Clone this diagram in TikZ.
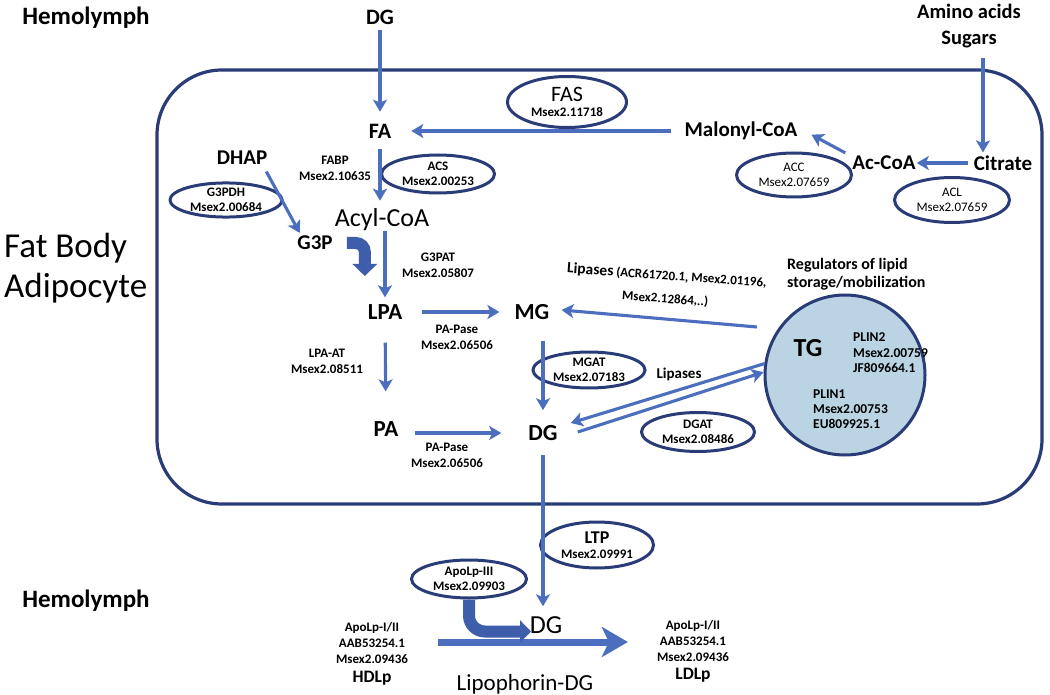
\documentclass[tikz,border=0pt]{standalone}
\usepackage{fontspec}
\setmainfont{Carlito}
\usetikzlibrary{arrows.meta,shapes.geometric,calc}
\definecolor{arrblue}{RGB}{76,110,190}
\definecolor{navy}{RGB}{42,60,120}
\definecolor{tgfill}{RGB}{186,212,228}
\definecolor{thickblue}{RGB}{62,94,172}
\begin{document}
\begin{tikzpicture}[x=1pt,y=-1pt,
  flow/.style={draw=arrblue, line width=3.1pt, -{Stealth[length=12pt,width=14pt,inset=3pt]}},
  lab/.style={inner sep=0pt, font=\bfseries\fontsize{21}{25}\selectfont},
  biglab/.style={inner sep=0pt, font=\bfseries\fontsize{23}{27}\selectfont},
  note/.style={inner sep=0pt, align=center, font=\bfseries\fontsize{13}{16}\selectfont},
  enz/.style={ellipse, draw=navy, line width=3pt, inner sep=0pt, minimum width=114pt, minimum height=40pt, align=center, font=\bfseries\fontsize{13}{15.5}\selectfont},
  bigarrow/.style={draw=thickblue, line width=12pt, -{Triangle[length=12pt,width=24pt]}},
]
\useasboundingbox (0,0) rectangle (1050,695);
\fill[white] (0,0) rectangle (1050,695);
% cell
\draw[navy, line width=3.2pt, rounded corners=65pt] (157,70) rectangle (1042,504);

% outside labels
\node[inner sep=0pt, font=\bfseries\fontsize{25}{28}\selectfont] (hem1) at (86,18) {Hemolymph};
\node[inner sep=0pt, font=\bfseries\fontsize{25}{28}\selectfont] (hem2) at (86,601) {Hemolymph};
\node[lab, font=\bfseries\fontsize{22}{26}\selectfont] (dg0) at (380,17) {DG};
\node[inner sep=0pt, align=center, font=\bfseries\fontsize{20.5}{26}\selectfont] (amino) at (969,26) {Amino acids\\Sugars};
\node[inner sep=0pt, align=left, anchor=west, font=\fontsize{35}{40}\selectfont] (fat) at (4,268) {Fat Body\\Adipocyte};

% upper pathway
\node[lab, font=\bfseries\fontsize{22}{26}\selectfont] (fa) at (380,131) {FA};
\node[lab] (mal) at (741,131) {Malonyl-CoA};
\node[lab] (acoa) at (884,163) {Ac-CoA};
\node[lab] (cit) at (1003,163) {Citrate};
\node[enz, minimum width=119pt, minimum height=51pt] (fas) at (567,102) {{\mdseries\fontsize{22}{24}\selectfont FAS}\\Msex2.11718};
\node[enz, minimum width=115pt, minimum height=44pt, font=\fontsize{13}{15.5}\selectfont] (acc) at (794,175) {ACC\\Msex2.07659};
\node[enz, minimum width=115pt, minimum height=45pt, font=\fontsize{13}{15.5}\selectfont] (acl) at (952,200) {ACL\\Msex2.07659};

\node[lab] (dhap) at (242,158) {DHAP};
\node[note] (fabp) at (335,168) {FABP\\Msex2.10635};
\node[enz, minimum width=113pt, minimum height=38pt] (acs) at (438,174) {ACS\\Msex2.00253};
\node[enz, minimum width=112pt, minimum height=34pt] (g3pdh) at (226,200) {G3PDH\\Msex2.00684};
\node[inner sep=0pt, font=\fontsize{26}{30}\selectfont] (acyl) at (382,220) {Acyl-CoA};
\node[lab] (g3p) at (315,243) {G3P};
\node[note] (g3pat) at (438,265) {G3PAT\\Msex2.05807};

\node[biglab] (lpa) at (385,312) {LPA};
\node[biglab] (mg) at (532,312) {MG};
\node[note] (pap1) at (457,337) {PA-Pase\\Msex2.06506};
\node[note] (lpaat) at (327,361) {LPA-AT\\Msex2.08511};
\node[biglab] (pa) at (386,429) {PA};
\node[biglab] (dg) at (543,433) {DG};
\node[note] (pap2) at (447,455) {PA-Pase\\Msex2.06506};
\node[enz, minimum width=112pt, minimum height=36pt] (mgat) at (589,370) {MGAT\\Msex2.07183};
\node[note, font=\bfseries\fontsize{15}{18}\selectfont] (lip2) at (679,374) {Lipases};
\node[enz, minimum width=113pt, minimum height=39pt] (dgat) at (698,432) {DGAT\\Msex2.08486};

% TG droplet
\node[circle, draw=navy, fill=tgfill, line width=3pt, minimum size=160pt, inner sep=0pt] (tg) at (845,375) {};
\node[inner sep=0pt, font=\bfseries\fontsize{26}{30}\selectfont] (tglab) at (808,348) {TG};
\node[note, align=left, anchor=west, font=\bfseries\fontsize{13.5}{15.5}\selectfont] (plin2) at (853,353) {PLIN2\\Msex2.00759\\JF809664.1};
\node[note, align=left, anchor=west, font=\bfseries\fontsize{13.5}{15}\selectfont] (plin1) at (813,409) {PLIN1\\Msex2.00753\\EU809925.1};
\node[note, align=left, anchor=west, font=\bfseries\fontsize{16}{18.5}\selectfont] (reg) at (787,274) {Regulators of lipid\\storage/mobilization};
\node[note, rotate=-4] (lip1) at (666,287) {{\fontsize{15.5}{18}\selectfont Lipases} (ACR61720.1, Msex2.01196,\\[7pt]Msex2.12864,..)};

% hemolymph part
\node[inner sep=0pt, font=\fontsize{26}{30}\selectfont] (dg2) at (546,625) {DG};
\node[enz, minimum width=113pt, minimum height=46pt] (ltp) at (597,545) {{\fontsize{18}{20}\selectfont LTP}\\Msex2.09991};
\node[enz, minimum width=115pt, minimum height=38pt] (apo) at (469,579) {ApoLp-III\\Msex2.09903};
\node[note, anchor=north] (hdl) at (372,622) {ApoLp-I/II\\AAB53254.1\\Msex2.09436\\[3pt]{\fontsize{17.5}{20}\selectfont HDLp}};
\node[note, anchor=north] (ldl) at (693,620) {ApoLp-I/II\\AAB53254.1\\Msex2.09436\\[2pt]{\fontsize{17.5}{20}\selectfont LDLp}};
\node[inner sep=0pt, font=\fontsize{23}{27}\selectfont] (lipo) at (525,684) {Lipophorin-DG};

% connectors
\draw[flow, shorten <=6pt, shorten >=12pt] (dg0) -- (fa);
\draw[flow, shorten <=13pt, shorten >=20pt] (mal) -- (fa);
\draw[flow, shorten <=6pt, shorten >=1pt] (cit) -- (acoa);
\draw[flow, shorten >=1pt] ([shift={(-7,-3)}]acoa.north west) -- ([shift={(13,-6)}]mal.south east);
\draw[flow, shorten >=1pt] ([shift={(14,10)}]amino.south) -- ([shift={(-20,-2)}]cit.north);
\draw[flow, shorten <=11pt, shorten >=8pt] (fa) -- (fa |- acyl.north);
\draw[flow, shorten >=7pt] (lpa |- acyl.south) -- (lpa);
\draw[flow, shorten <=4pt, shorten >=1pt] ([shift={(-3,3)}]dhap.south east) -- ([shift={(3,-2)}]g3p.north west);
\draw[bigarrow] ([shift={(14,0)}]g3p.east) -- ++(9,0) to[out=0,in=90] ++(9,9) -- ++(0,24);
\draw[flow, shorten <=20pt, shorten >=15pt] (lpa) -- (mg);
\draw[flow, shorten <=23pt, shorten >=30pt] (lpa) -- (pa);
\draw[flow, shorten <=16pt, shorten >=0pt] (pa.east |- dg) -- ([shift={(-27,0)}]dg.west);
\draw[flow, shorten <=21pt, shorten >=15pt] (dg |- mg.south) -- (dg);
\draw[flow] ([shift={(-88,-48)}]tg.center) -- ([shift={(12,-2)}]mg.east);
\draw[flow] (tg.172) -- ([shift={(13,-10)}]dg.east);
\draw[flow] ([shift={(20,-1)}]dg.east) -- (tg.178);
\draw[flow, shorten <=14pt, shorten >=10pt] (dg) -- (dg |- dg2.north);
\draw[arrblue, line width=7pt, -{Stealth[length=26pt,width=30pt,inset=7pt]}] ([shift={(30,20)}]hdl.north east) -- ([shift={(-29,22)}]ldl.north west);
\draw[bigarrow, line width=12pt, -{Triangle[length=11pt,width=22pt]}] (apo.south) -- ++(0,16) to[out=-90,in=180] ++(16,16) -- ++(46,0);
\end{tikzpicture}
\end{document}
